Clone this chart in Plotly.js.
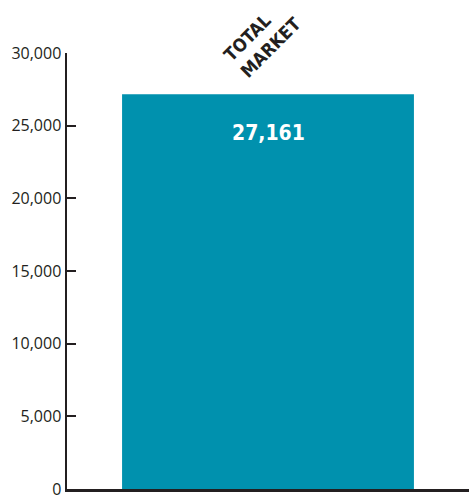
<!DOCTYPE html>
<html><head><meta charset="utf-8">
<script src="https://cdn.plot.ly/plotly-3.0.1.min.js"></script>
<style>html,body{margin:0;padding:0;background:#fff}#c{width:469px;height:498px}</style>
</head><body><div id="c"></div>
<script>
const categories = ["TOTAL<br>MARKET"];
const values = [27161];
const yTicks = [0, 5000, 10000, 15000, 20000, 25000, 30000];

const fmt = v => v.toLocaleString('en-US');

const trace = {
  type: 'bar', x: categories, y: values,
  marker: {color: '#0091ae'}, width: 0.726, hoverinfo: 'none'
};
const annotations = [];
categories.forEach((c, i) => {
  annotations.push({
    x: c, y: values[i], xref: 'x', yref: 'y', yanchor: 'middle', yshift: -39,
    text: '<b>' + fmt(values[i]) + '</b>', showarrow: false,
    font: {family: 'DejaVu Sans Condensed', size: 21, color: '#ffffff'}
  });
  annotations.push({
    x: c, y: 1, xref: 'x', yref: 'paper', yanchor: 'middle', xanchor: 'center', align: 'left',
    xshift: -6, yshift: 14, textangle: -45,
    text: '<b>' + c + '</b>', showarrow: false,
    font: {family: 'DejaVu Sans Condensed', size: 18, color: '#231f20'}
  });
});
const layout = {
  width: 469, height: 498,
  margin: {l: 67, r: 0, t: 53, b: 9},
  paper_bgcolor: '#fff', plot_bgcolor: '#fff',
  showlegend: false,
  xaxis: {
    type: 'category', range: [-0.5, 0.5], showticklabels: false, ticks: '',
    showline: true, linecolor: '#231f20', linewidth: 2.5, showgrid: false, zeroline: false, fixedrange: true
  },
  yaxis: {
    range: [0, 30000], tickvals: yTicks, ticktext: yTicks.map(fmt),
    ticks: 'inside', ticklen: 9, tickwidth: 2, tickcolor: '#231f20',
    showline: true, linecolor: '#231f20', linewidth: 2.5, showgrid: false, zeroline: false,
    tickfont: {family: 'Open Sans', size: 16, color: '#231f20'}, ticklabelstandoff: 0,
    ticklabeloverflow: 'allow'
  },
  annotations: annotations
};
Plotly.newPlot('c', [trace], layout, {staticPlot: true});
</script></body></html>
